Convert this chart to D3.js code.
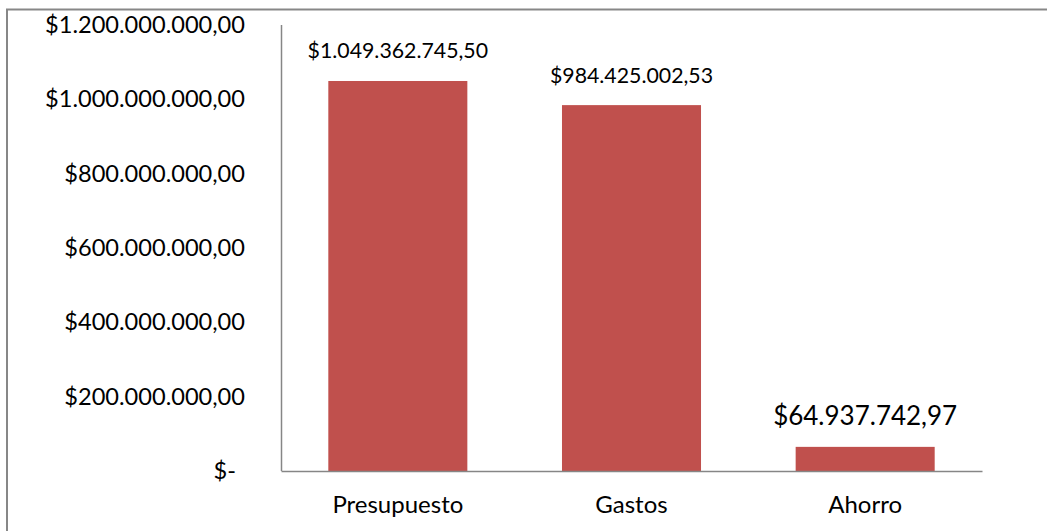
<!DOCTYPE html>
<html>
<head>
<meta charset="utf-8">
<script src="https://cdn.jsdelivr.net/npm/d3@7"></script>
<style>
  html, body { margin: 0; padding: 0; background: #fff; }
  svg { display: block; font-family: Lato, "Open Sans", sans-serif; }
</style>
</head>
<body>
<svg id="chart" width="1047" height="531"></svg>
<script>
// Budget summary: budget, spending and savings
const categories = ["Presupuesto", "Gastos", "Ahorro"];
const values = [1049362745.50, 984425002.53, 64937742.97];
const valueLabels = ["$1.049.362.745,50", "$984.425.002,53", "$64.937.742,97"];
const tickValues = [0, 200000000, 400000000, 600000000, 800000000, 1000000000, 1200000000];
const tickLabels = ["$-", "$200.000.000,00", "$400.000.000,00", "$600.000.000,00",
                    "$800.000.000,00", "$1.000.000.000,00", "$1.200.000.000,00"];

const svg = d3.select("#chart");
const W = 1047, H = 531;
const plot = { left: 281, right: 982, top: 25, bottom: 471 };

// Outer chart frame (runs past the right and bottom edges)
svg.append("rect")
  .attr("x", 7).attr("y", 9.5)
  .attr("width", W + 20).attr("height", H + 20)
  .attr("fill", "none").attr("stroke", "#878787").attr("stroke-width", 2);

const x = d3.scaleBand().domain(categories)
  .range([plot.left, plot.right]).paddingInner(0.405).paddingOuter(0.2025);
const y = d3.scaleLinear().domain([0, 1200000000]).range([plot.bottom, plot.top]);

// Value axis: line plus labels
const yAxis = d3.axisLeft(y).tickValues(tickValues)
  .tickSize(0).tickPadding(36)
  .tickFormat((d, i) => tickLabels[i]);
const gy = svg.append("g").attr("transform", `translate(${plot.left},0)`).call(yAxis);
gy.select(".domain").attr("stroke", "#868686").attr("stroke-width", 1.5)
  .attr("d", `M0.5,${plot.top}V${plot.bottom}`);
gy.selectAll("text").attr("font-size", 23.6).attr("fill", "#000")
  .attr("font-family", "Lato, 'Open Sans', sans-serif")
  .attr("dx", (d) => d === 0 ? -9 : 0);

// Bars
svg.append("g").selectAll("rect").data(values).join("rect")
  .attr("x", (d, i) => x(categories[i]))
  .attr("y", (d) => y(d))
  .attr("width", x.bandwidth())
  .attr("height", (d) => y(0) - y(d))
  .attr("fill", "#C0504D");

// Category axis
const xAxis = d3.axisBottom(x).tickSize(0).tickPadding(25);
const gx = svg.append("g").attr("transform", `translate(0,${plot.bottom})`).call(xAxis);
gx.select(".domain").attr("stroke", "#868686").attr("stroke-width", 1.5);
gx.selectAll("text").attr("font-size", 24).attr("fill", "#000")
  .attr("font-family", "Lato, 'Open Sans', sans-serif");

// Value labels above bars
svg.append("g").selectAll("text").data(values).join("text")
  .attr("x", (d, i) => x(categories[i]) + x.bandwidth() / 2)
  .attr("y", (d) => y(d) - 28)
  .attr("text-anchor", "middle")
  .attr("dominant-baseline", "middle")
  .attr("font-size", (d, i) => i === 2 ? 26 : 21.3)
  .attr("fill", "#000")
  .text((d, i) => valueLabels[i]);
</script>
</body>
</html>
